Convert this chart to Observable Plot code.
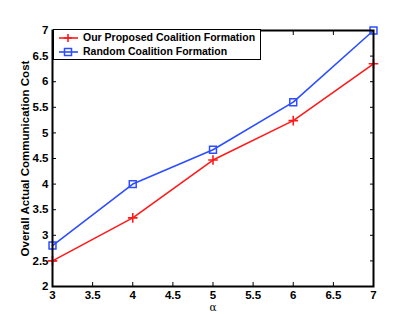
<!DOCTYPE html>
<html><head><meta charset="utf-8">
<script src="https://cdn.jsdelivr.net/npm/d3@7"></script>
<script src="https://cdn.jsdelivr.net/npm/@observablehq/plot@0.6"></script>
<style>
body{margin:0;background:#fff;}
#wrap{position:relative;width:415px;height:314px;font-family:"Liberation Sans",Arial,sans-serif;}
#legend{position:absolute;left:53px;top:29px;width:208px;height:31px;background:#fff;border:1.5px solid #000;box-sizing:border-box;font-weight:bold;font-size:10.5px;}
#legend div{position:absolute;left:4px;height:14px;line-height:14px;white-space:nowrap;}
#legend svg{vertical-align:middle;margin-right:3px;}
</style></head><body>
<div id="wrap"><div id="chart"></div>
<div id="legend"></div></div>
<script>
const alphas = [3, 4, 5, 6, 7];
const proposed = [2.5, 3.34, 4.47, 5.24, 6.35];
const random = [2.8, 4.0, 4.67, 5.6, 7.0];
const seriesNames = ["Our Proposed Coalition Formation", "Random Coalition Formation"];
const colors = ["#ff1a1a", "#2d4dff"];
const xTicks = [3, 3.5, 4, 4.5, 5, 5.5, 6, 6.5, 7];
const yTicks = [2, 2.5, 3, 3.5, 4, 4.5, 5, 5.5, 6, 6.5, 7];

const data = [];
alphas.forEach((a, i) => {
  data.push({a, v: proposed[i], s: seriesNames[0]});
  data.push({a, v: random[i], s: seriesNames[1]});
});
const fmt = d => String(d);
const chart = Plot.plot({
  width: 415, height: 314,
  marginLeft: 52, marginRight: 42, marginTop: 30, marginBottom: 28,
  style: {fontFamily: "Liberation Sans, Arial, sans-serif", fontSize: "11px", background: "#fff"},
  x: {domain: [3, 7]},
  y: {domain: [2, 7]},
  marks: [
    Plot.axisX(xTicks, {anchor: "bottom", tickSize: -4, tickPadding: 8, tickFormat: fmt, fontWeight: "bold", fontSize: 11.5, label: null}),
    Plot.axisX(xTicks, {anchor: "top", tickSize: -4, tickFormat: () => "", label: null}),
    Plot.axisY(yTicks, {anchor: "left", tickSize: -4, tickPadding: 8, tickFormat: fmt, fontWeight: "bold", fontSize: 11.5, label: null}),
    Plot.axisY(yTicks, {anchor: "right", tickSize: -4, tickFormat: () => "", label: null}),
    Plot.text(["α"], {frameAnchor: "bottom", dy: 24, fontSize: 10.5, fontFamily: "DejaVu Serif, serif"}),
    Plot.text(["Overall Actual Communication Cost"], {frameAnchor: "left", textAnchor: "middle", dx: -27, rotate: -90, fontWeight: "bold", fontSize: 11.5}),
    Plot.line(data, {x: "a", y: "v", z: "s", stroke: d => d.s === seriesNames[0] ? colors[0] : colors[1], strokeWidth: 1.6}),
    Plot.dot(data.filter(d => d.s === seriesNames[0]), {x: "a", y: "v", symbol: "plus", r: 3.2, stroke: colors[0], strokeWidth: 1.6}),
    Plot.dot(data.filter(d => d.s === seriesNames[1]), {x: "a", y: "v", symbol: "square2", r: 4.4, stroke: colors[1], fill: "none", strokeWidth: 1.5}),
    Plot.frame({stroke: "#000", strokeWidth: 2})
  ]
});
document.getElementById("chart").appendChild(chart);

const leg = document.getElementById("legend");
seriesNames.forEach((name, i) => {
  const row = document.createElement("div");
  row.style.top = (i === 0 ? 0 : 14) + "px";
  const mark = i === 0
    ? `<path d="M10,3V11M6,7H14" stroke="${colors[i]}" stroke-width="1.6"/>`
    : `<rect x="6.5" y="3.5" width="7" height="7" fill="none" stroke="${colors[i]}" stroke-width="1.5"/>`;
  row.innerHTML = `<svg width="22" height="14"><line x1="1" x2="20" y1="7" y2="7" stroke="${colors[i]}" stroke-width="1.6"/>${mark}</svg>${name}`;
  leg.appendChild(row);
});
</script></body></html>
